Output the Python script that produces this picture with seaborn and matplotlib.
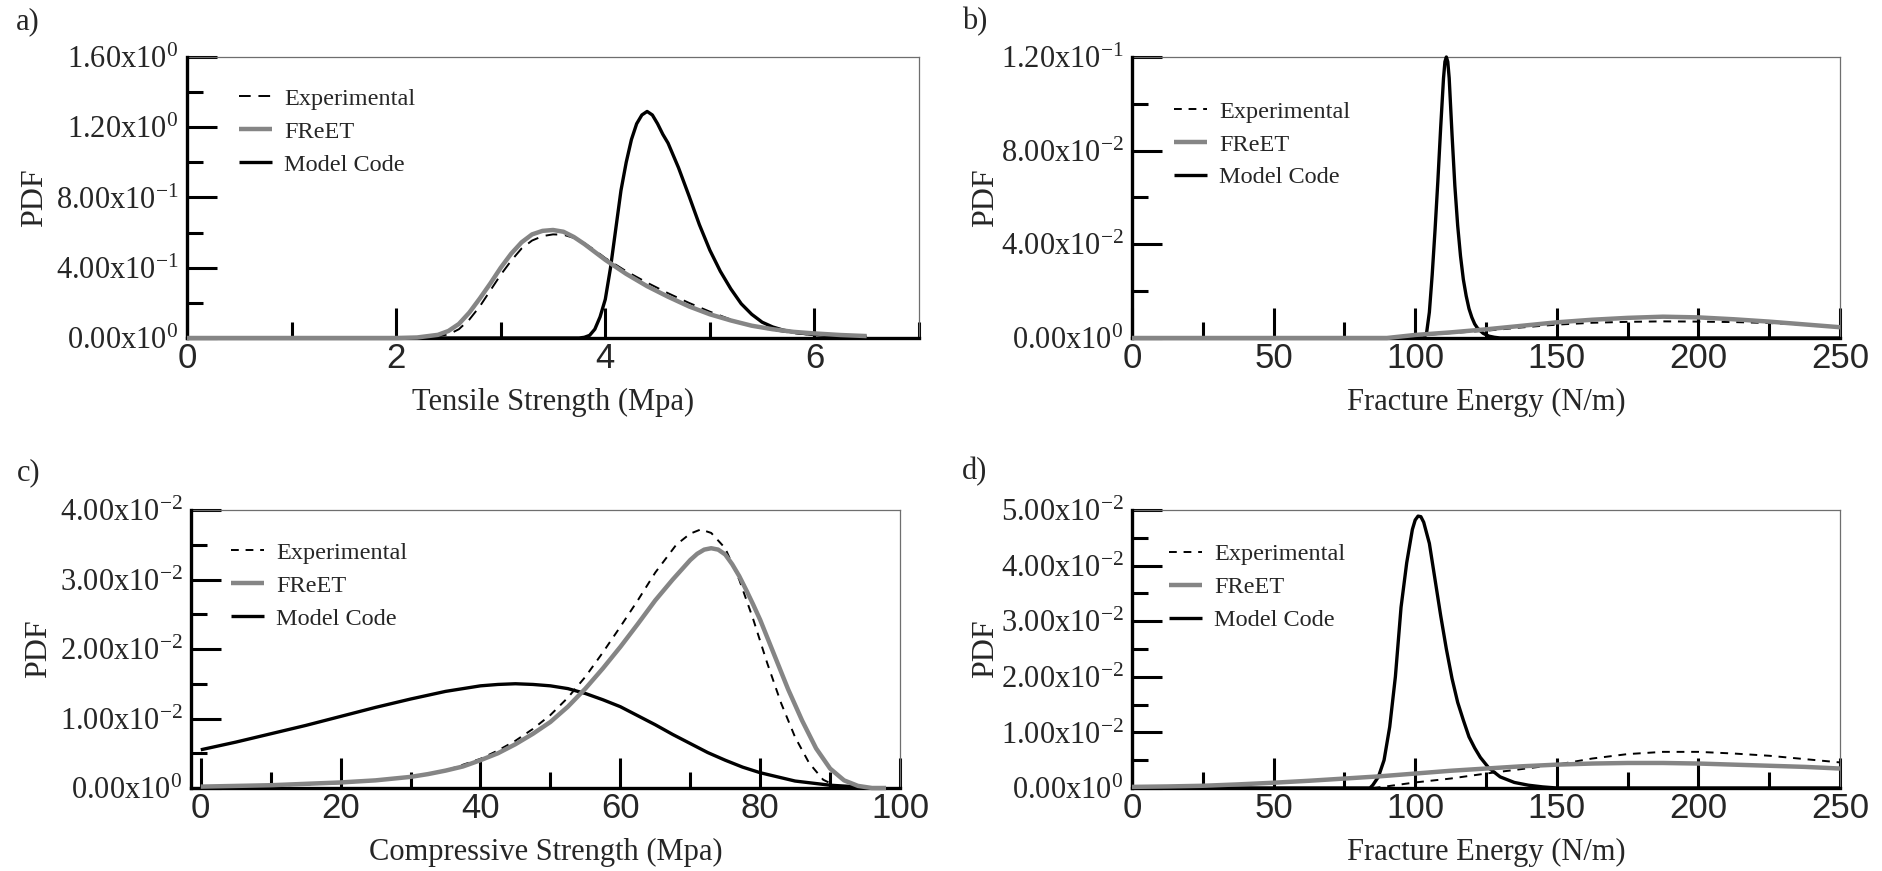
import numpy as np
import matplotlib
matplotlib.use("Agg")
import matplotlib.pyplot as plt
import seaborn as sns
from matplotlib.ticker import FixedLocator, FuncFormatter

sns.set_theme(style="white")
plt.rcParams["font.family"] = ["Liberation Serif", "DejaVu Serif"]
plt.rcParams["mathtext.fontset"] = "custom"
plt.rcParams["mathtext.rm"] = "Liberation Serif"
plt.rcParams["mathtext.it"] = "Liberation Serif:italic"
plt.rcParams["mathtext.bf"] = "Liberation Serif:bold"
plt.rcParams["mathtext.default"] = "regular"

# ---------------- a) tensile strength ----------------
a_exp_x = [2.0, 2.3, 2.5, 2.6, 2.7, 2.8, 2.9, 3.0, 3.1, 3.2, 3.3, 3.4, 3.5, 3.6,
           3.7, 3.8, 3.9, 4.0, 4.2, 4.4, 4.6, 4.8, 5.0, 5.2, 5.4, 5.6, 5.8, 6.0]
a_exp = [0.0, 0.003, 0.02, 0.05, 0.105, 0.18, 0.27, 0.36, 0.44, 0.51, 0.555, 0.58,
         0.59, 0.588, 0.57, 0.54, 0.50, 0.455, 0.38, 0.315, 0.255, 0.20, 0.15,
         0.105, 0.07, 0.045, 0.028, 0.017]
a_freet_x = [0, 2.0, 2.2, 2.4, 2.5, 2.6, 2.7, 2.8, 2.9, 3.0, 3.1, 3.2, 3.3, 3.4,
             3.5, 3.6, 3.7, 3.8, 3.9, 4.0, 4.2, 4.4, 4.6, 4.8, 5.0, 5.2, 5.4,
             5.6, 5.8, 6.0, 6.25, 6.5]
a_freet = [0.0, 0.0, 0.003, 0.018, 0.04, 0.08, 0.145, 0.225, 0.31, 0.40, 0.48,
           0.545, 0.59, 0.61, 0.615, 0.605, 0.575, 0.535, 0.49, 0.445, 0.365,
           0.295, 0.235, 0.18, 0.135, 0.10, 0.07, 0.05, 0.035, 0.026, 0.017, 0.011]
a_model_x = [0, 3.75, 3.8, 3.85, 3.9, 3.95, 4.0, 4.05, 4.1, 4.15, 4.2, 4.25, 4.3,
             4.35, 4.4, 4.45, 4.5, 4.55, 4.6, 4.7, 4.8, 4.9, 5.0, 5.1, 5.2, 5.3,
             5.4, 5.5, 5.6, 5.7, 5.8, 6.0, 6.2, 6.5]
a_model = [0.0, 0.0, 0.004, 0.015, 0.05, 0.12, 0.22, 0.40, 0.62, 0.84, 1.0, 1.13,
           1.22, 1.27, 1.29, 1.27, 1.22, 1.16, 1.11, 0.97, 0.81, 0.645, 0.50,
           0.38, 0.28, 0.195, 0.135, 0.09, 0.063, 0.045, 0.033, 0.019, 0.011, 0.005]

# ---------------- b) fracture energy ----------------
b_exp_x = [90, 100, 110, 125, 137.5, 150, 162.5, 175, 187.5, 200, 212.5, 225,
           237.5, 250]
b_exp = [0.0, 0.0009, 0.0019, 0.0031, 0.0045, 0.0057, 0.0065, 0.0069, 0.0071,
         0.0070, 0.0068, 0.0064, 0.0057, 0.0048]
b_freet_x = [0, 90, 100, 112.5, 125, 137.5, 150, 162.5, 175, 187.5, 200, 212.5,
             225, 237.5, 250]
b_freet = [0.0, 0.0, 0.0013, 0.0024, 0.0037, 0.0052, 0.0067, 0.0078, 0.0086,
           0.0091, 0.0088, 0.0080, 0.0070, 0.0058, 0.0046]
b_model_x = [0, 103, 104, 105, 106, 107, 108, 109, 110, 110.5, 111, 111.5, 112,
             113, 114, 115, 116, 117, 118, 119, 120, 121, 122, 124, 126, 128,
             130, 250]
b_model = [0.0, 0.0, 0.002, 0.011, 0.027, 0.046, 0.067, 0.09, 0.111, 0.118, 0.12,
           0.118, 0.111, 0.087, 0.065, 0.048, 0.035, 0.025, 0.018, 0.0125,
           0.0088, 0.006, 0.0042, 0.002, 0.0008, 0.0003, 0.0, 0.0]

# ---------------- c) compressive strength ----------------
c_exp_x = [0, 10, 20, 30, 35, 40, 42.5, 45, 47.5, 50, 52.5, 55, 57.5, 60, 62.5,
           65, 68, 70, 71.5, 73, 75, 77, 79, 81, 83, 85, 87, 89, 91]
c_exp = [0.0001, 0.0003, 0.0007, 0.0015, 0.0025, 0.0042, 0.0054, 0.0068, 0.0085,
         0.0105, 0.013, 0.016, 0.0195, 0.0232, 0.027, 0.031, 0.035, 0.0366,
         0.0372, 0.0367, 0.0345, 0.030, 0.0243, 0.018, 0.0122, 0.0073, 0.0036,
         0.0012, 0.0002]
c_freet_x = [0, 10, 20, 25, 30, 32.5, 35, 37.5, 40, 42.5, 45, 47.5, 50, 52.5, 55,
             57.5, 60, 62.5, 65, 67.5, 70, 71, 72, 73, 74, 75, 76, 77, 78, 79,
             80, 82, 84, 86, 88, 90, 92, 94, 96, 98]
c_freet = [0.0002, 0.0004, 0.0008, 0.0011, 0.0016, 0.002, 0.0025, 0.0031, 0.004,
           0.005, 0.0063, 0.0078, 0.0095, 0.0117, 0.0143, 0.0172, 0.0203, 0.0236,
           0.027, 0.030, 0.0328, 0.0337, 0.0343, 0.0345, 0.0343, 0.0336, 0.0322,
           0.0305, 0.0285, 0.0264, 0.0242, 0.0192, 0.0142, 0.0097, 0.0057,
           0.0028, 0.0011, 0.0003, 0.0, 0.0]
c_model_x = [0, 5, 10, 15, 20, 25, 30, 35, 40, 42.5, 45, 47.5, 50, 52.5, 55, 57.5,
             60, 62.5, 65, 67.5, 70, 72.5, 75, 77.5, 80, 85, 90, 95]
c_model = [0.0055, 0.0066, 0.0078, 0.009, 0.0103, 0.0116, 0.0128, 0.0139, 0.0147,
           0.0149, 0.015, 0.0149, 0.0147, 0.0143, 0.0136, 0.0127, 0.0117, 0.0104,
           0.0091, 0.0077, 0.0064, 0.0051, 0.004, 0.003, 0.0022, 0.001, 0.0004,
           0.0001]

# ---------------- d) fracture energy ----------------
d_exp_x = [85, 90, 100, 112.5, 125, 137.5, 150, 162.5, 175, 187.5, 200, 212.5,
           225, 237.5, 250]
d_exp = [0.0, 0.0003, 0.001, 0.0017, 0.0026, 0.0034, 0.0042, 0.0053, 0.0061,
         0.0065, 0.0065, 0.0062, 0.0058, 0.0052, 0.0046]
d_freet_x = [0, 12.5, 25, 37.5, 50, 62.5, 75, 87.5, 100, 112.5, 125, 137.5, 150,
             162.5, 175, 187.5, 200, 212.5, 225, 237.5, 250]
d_freet = [0.0002, 0.00028, 0.0004, 0.00065, 0.00095, 0.0013, 0.0017, 0.0021,
           0.0026, 0.0031, 0.0035, 0.0039, 0.0042, 0.0044, 0.0045, 0.0045,
           0.0044, 0.0042, 0.004, 0.0038, 0.0035]
d_model_x = [0, 84, 85, 87, 89, 91, 93, 95, 97, 99, 100, 101, 102, 103, 105, 107,
             109, 111, 113, 115, 117, 119, 121, 123, 126, 130, 135, 140, 145,
             150, 250]
d_model = [0.0, 0.0, 0.0005, 0.002, 0.005, 0.011, 0.02, 0.0325, 0.0405, 0.0465,
           0.0482, 0.0489, 0.0488, 0.0478, 0.044, 0.0375, 0.031, 0.025, 0.0197,
           0.0154, 0.0122, 0.0092, 0.0072, 0.0055, 0.0036, 0.002, 0.001, 0.0005,
           0.0002, 0.0, 0.0]

# ---------------- figure layout ----------------
W, H = 1883, 871
GRAY = "#858585"
SERIES_NAMES = ["Experimental", "FReET", "Model Code"]


def sci_label(v, _pos=None):
    if abs(v) < 1e-12:
        return r"0.00x10$^{0}$"
    e = int(np.floor(np.log10(abs(v)) + 1e-9))
    m = v / 10 ** e
    return rf"{m:.2f}x10$^{{{e}}}$"


panels = [
    dict(tag="a)", box=(187, 57, 919, 338), xlim=(0, 7), ylim=(0, 1.6),
         xmaj=[0, 2, 4, 6], xmin=[1, 3, 5, 7],
         ymaj=[0, 0.4, 0.8, 1.2, 1.6], ymin=[0.2, 0.6, 1.0, 1.4],
         xlabel="Tensile Strength (Mpa)",
         series=[(a_exp_x, a_exp), (a_freet_x, a_freet), (a_model_x, a_model)],
         dash=(6, 4), leg=(0.071, 0.89), tagpos=(16, 22), ylab=35),
    dict(tag="b)", box=(1132, 57, 1840, 338), xlim=(0, 250), ylim=(0, 0.12),
         xmaj=[0, 50, 100, 150, 200, 250], xmin=[25, 75, 125, 175, 225],
         ymaj=[0, 0.04, 0.08, 0.12], ymin=[0.02, 0.06, 0.10],
         xlabel="Fracture Energy (N/m)",
         series=[(b_exp_x, b_exp), (b_freet_x, b_freet), (b_model_x, b_model)],
         dash=(4, 3.5), leg=(0.06, 0.845), tagpos=(962, 22), ylab=986),
    dict(tag="c)", box=(191, 510, 900, 788), xlim=(-1.4, 100), ylim=(0, 0.04),
         xmaj=[0, 20, 40, 60, 80, 100], xmin=[10, 30, 50, 70, 90],
         ymaj=[0, 0.01, 0.02, 0.03, 0.04], ymin=[0.005, 0.015, 0.025, 0.035],
         xlabel="Compressive Strength (Mpa)",
         series=[(c_exp_x, c_exp), (c_freet_x, c_freet), (c_model_x, c_model)],
         dash=(4, 3.5), leg=(0.057, 0.885), tagpos=(17, 473), ylab=39),
    dict(tag="d)", box=(1132, 510, 1840, 788), xlim=(0, 250), ylim=(0, 0.05),
         xmaj=[0, 50, 100, 150, 200, 250], xmin=[25, 75, 125, 175, 225],
         ymaj=[0, 0.01, 0.02, 0.03, 0.04, 0.05],
         ymin=[0.005, 0.015, 0.025, 0.035, 0.045],
         xlabel="Fracture Energy (N/m)",
         series=[(d_exp_x, d_exp), (d_freet_x, d_freet), (d_model_x, d_model)],
         dash=(4, 3.5), leg=(0.052, 0.88), tagpos=(962, 472), ylab=986),
]

fig = plt.figure(figsize=(W / 100, H / 100), dpi=100)
fig.patch.set_facecolor("white")

for p in panels:
    l, t, r, b = p["box"]
    ax = fig.add_axes([l / W, 1 - b / H, (r - l) / W, (b - t) / H])
    ax.set_facecolor("white")

    (ex, ey), (fx, fy), (mx, my) = p["series"]
    sns.lineplot(x=ex, y=ey, ax=ax, color="black", linewidth=1.4, sort=False,
                 errorbar=None, legend=False)
    h_exp = ax.lines[-1]
    h_exp.set_dashes(p["dash"])
    sns.lineplot(x=mx, y=my, ax=ax, color="black", linewidth=2.4, sort=False,
                 errorbar=None, legend=False)
    h_mod = ax.lines[-1]
    sns.lineplot(x=fx, y=fy, ax=ax, color=GRAY, linewidth=3.2, sort=False,
                 errorbar=None, legend=False)
    h_fre = ax.lines[-1]
    for ln, z in ((h_exp, 3), (h_mod, 4), (h_fre, 5)):
        ln.set_zorder(z)
        ln.set_clip_on(False)
        ln.set_solid_capstyle("butt")
        ln.set_solid_joinstyle("round")

    ax.set_xlim(*p["xlim"])
    ax.set_ylim(*p["ylim"])

    ax.xaxis.set_major_locator(FixedLocator(p["xmaj"]))
    ax.xaxis.set_minor_locator(FixedLocator(p["xmin"]))
    ax.yaxis.set_major_locator(FixedLocator(p["ymaj"]))
    ax.yaxis.set_minor_locator(FixedLocator(p["ymin"]))
    ax.yaxis.set_major_formatter(FuncFormatter(sci_label))
    ax.xaxis.set_major_formatter(FuncFormatter(lambda v, _p: f"{v:g}"))

    ax.tick_params(axis="both", which="both", direction="in", color="black",
                   width=2.2, bottom=True, left=True, top=False, right=False)
    ax.tick_params(axis="both", which="major", length=21.5)
    ax.tick_params(axis="both", which="minor", length=11.5)
    ax.tick_params(axis="x", which="major", pad=3, labelsize=25)
    ax.tick_params(axis="y", which="major", pad=6, labelsize=22)
    for lab in ax.get_xticklabels():
        lab.set_fontfamily("Liberation Sans")

    for side in ("left", "bottom"):
        ax.spines[side].set_color("black")
        ax.spines[side].set_linewidth(2.4)
        ax.spines[side].set_zorder(2.6)
    for side in ("top", "right"):
        ax.spines[side].set_color("#6e6e6e")
        ax.spines[side].set_linewidth(0.9)

    ax.set_xlabel(p["xlabel"], fontsize=22)
    ax.xaxis.set_label_coords(0.5, -50 / (b - t))
    ax.xaxis.label.set_va("top")
    ax.set_ylabel("PDF", fontsize=23, va="center")
    ax.yaxis.set_label_coords((p["ylab"] - l) / (r - l), 0.5)

    h_exp.set_label(SERIES_NAMES[0])
    h_fre.set_label(SERIES_NAMES[1])
    h_mod.set_label(SERIES_NAMES[2])
    ax.legend(handles=[h_exp, h_fre, h_mod], loc="upper left",
              bbox_to_anchor=p["leg"], frameon=False, fontsize=17.5,
              borderpad=0, borderaxespad=0, handlelength=1.35,
              handletextpad=0.5, labelspacing=0.45)

    fig.text(p["tagpos"][0] / W, 1 - p["tagpos"][1] / H, p["tag"],
             fontsize=22, ha="left", va="center")

fig.savefig("out.png", dpi=100, facecolor="white")
